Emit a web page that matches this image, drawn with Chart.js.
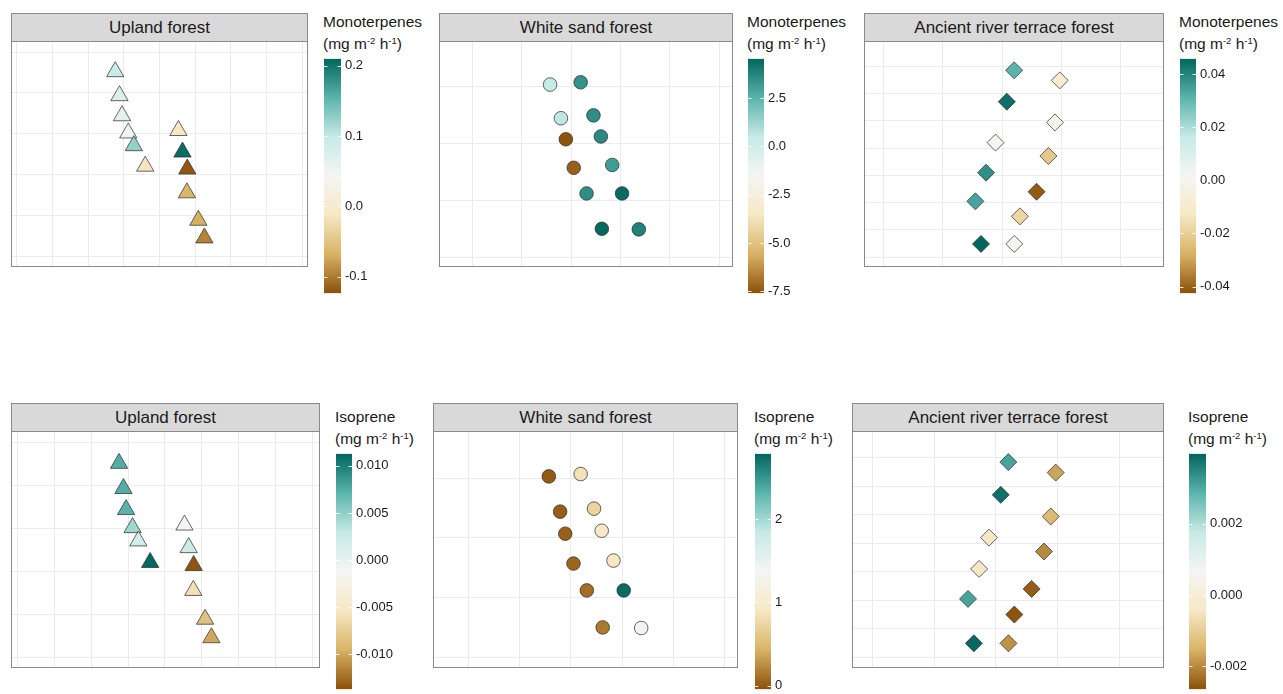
<!DOCTYPE html>
<html>
<head>
<meta charset="utf-8">
<script src="https://cdn.jsdelivr.net/npm/chart.js@4.4.1/dist/chart.umd.min.js"></script>
<style>
body { margin: 0; background: #fff; width: 1283px; height: 694px; position: relative; overflow: hidden;
       font-family: "Liberation Sans", Arial, sans-serif; }
.strip { position: absolute; box-sizing: border-box; background: #d9d9d9; border: 1px solid #8a8a8a;
         color: #1a1a1a; font-size: 17px; text-align: center; }
.plot { position: absolute; box-sizing: border-box; border: 1px solid #8a8a8a; }
.bar { position: absolute; }
.ltitle { position: absolute; font-size: 15.5px; line-height: 22px; color: #1a1a1a; white-space: nowrap; }
.ltitle .sup { font-size: 9.5px; position: relative; top: -5px; }
</style>
</head>
<body>
<script>
// site coordinates (grid units, no axis labels in the original)
const uplandX = [2.757, 2.876, 2.948, 3.123, 3.28, 3.60, 4.53, 4.645, 4.78, 4.77, 5.09, 5.26];
const uplandY = [4.52, 3.935, 3.445, 3.025, 2.715, 2.215, 3.085, 2.56, 2.145, 1.565, 0.895, 0.465];
const whiteSandX = [1.57, 2.19, 1.79, 2.45, 1.89, 2.60, 2.05, 2.83, 2.31, 3.03, 2.62, 3.37];
const whiteSandY = [3.03, 3.07, 2.44, 2.49, 2.07, 2.12, 1.57, 1.62, 1.12, 1.12, 0.50, 0.49];
const ancientX = [2.203, 2.97, 2.08, 2.89, 1.89, 2.78, 1.73, 2.58, 1.55, 2.30, 1.645, 2.205];
const ancientY = [6.85, 6.48, 5.70, 4.94, 4.20, 3.71, 3.10, 2.40, 2.05, 1.50, 0.49, 0.49];

// emissions (mg m-2 h-1)
const monoUpland = [0.095, 0.072, 0.062, 0.05, 0.125, -0.015, -0.012, 0.205, -0.12, -0.065, -0.07, -0.095];
const monoWhiteSand = [0.5, 3.4, 0.6, 3.5, -7.55, 3.6, -7.3, 3.1, 3.5, 4.4, 4.5, 3.8];
const monoAncient = [0.031, -0.010, 0.044, -0.001, 0.0, -0.022, 0.038, -0.041, 0.034, -0.018, 0.046, 0.0];
const isoUpland = [0.0075, 0.0075, 0.0072, 0.0045, 0.0018, 0.0112, -0.0015, 0.0025, -0.0135, -0.006, -0.0085, -0.010];
const isoWhiteSand = [0.0, 0.85, 0.02, 0.72, 0.03, 0.95, 0.05, 0.9, 0.1, 2.75, 0.15, 1.3];
const isoAncient = [0.0031, -0.0017, 0.0038, -0.0014, -0.0004, -0.0020, -0.0004, -0.0025, 0.0031, -0.0026, 0.0039, -0.0019];

// colour bar limits and ticks
const monoUplandLim = [-0.1236, 0.2097];
const monoUplandTicks = [-0.1, 0, 0.1, 0.2];
const monoUplandLabels = ['-0.1', '0.0', '0.1', '0.2'];
const monoWhiteSandLim = [-7.59, 4.53];
const monoWhiteSandTicks = [-7.5, -5, -2.5, 0, 2.5];
const monoWhiteSandLabels = ['-7.5', '-5.0', '-2.5', '0.0', '2.5'];
const monoAncientLim = [-0.0425, 0.0458];
const monoAncientTicks = [-0.04, -0.02, 0, 0.02, 0.04];
const monoAncientLabels = ['-0.04', '-0.02', '0.00', '0.02', '0.04'];
const isoUplandLim = [-0.01368, 0.01128];
const isoUplandTicks = [-0.01, -0.005, 0, 0.005, 0.01];
const isoUplandLabels = ['-0.010', '-0.005', '0.000', '0.005', '0.010'];
const isoWhiteSandLim = [-0.044, 2.788];
const isoWhiteSandTicks = [0, 1, 2];
const isoWhiteSandLabels = ['0', '1', '2'];
const isoAncientLim = [-0.00264, 0.00396];
const isoAncientTicks = [-0.002, 0, 0.002];
const isoAncientLabels = ['-0.002', '0.000', '0.002'];

// BrBG (7) distiller palette
const palette = ['#8c510a', '#d8b365', '#f6e8c3', '#f5f5f5', '#c7eae5', '#5ab4ac', '#01665e'];

Chart.defaults.font.family = '"Liberation Sans", Arial, sans-serif';

function hexToRgb(h) { return [1, 3, 5].map(i => parseInt(h.substr(i, 2), 16)); }
function colourFor(v, lim) {
    let t = (v - lim[0]) / (lim[1] - lim[0]);
    t = Math.max(0, Math.min(1, t));
    const s = t * (palette.length - 1);
    const i = Math.min(Math.floor(s), palette.length - 2);
    const f = s - i;
    const a = hexToRgb(palette[i]), b = hexToRgb(palette[i + 1]);
    return 'rgb(' + a.map((c, k) => Math.round(c + (b[k] - c) * f)).join(',') + ')';
}

const panels = [
    { title: 'Upland forest', xs: uplandX, ys: uplandY, vals: monoUpland, lim: monoUplandLim,
      ticks: monoUplandTicks, labels: monoUplandLabels, shape: 'triangle', r: 10, legend: 'Monoterpenes',
      box: [11, 13, 297, 267], xr: [-0.14, 8.14, 8], yr: [-0.22, 5.244, 5], bar: [324, 57, 17, 238] },
    { title: 'White sand forest', xs: whiteSandX, ys: whiteSandY, vals: monoWhiteSand, lim: monoWhiteSandLim,
      ticks: monoWhiteSandTicks, labels: monoWhiteSandLabels, shape: 'circle', r: 6.8, legend: 'Monoterpenes',
      box: [439, 13, 294, 267], xr: [-0.663, 5.26, 5], yr: [-0.153, 3.777, 3], bar: [748, 57, 16, 238] },
    { title: 'Ancient river terrace forest', xs: ancientX, ys: ancientY, vals: monoAncient, lim: monoAncientLim,
      ticks: monoAncientTicks, labels: monoAncientLabels, shape: 'rectRot', r: 8.5, legend: 'Monoterpenes',
      box: [864, 13, 300, 267], xr: [-0.308, 4.709, 4], yr: [-0.319, 7.886, 7], bar: [1180, 57, 16, 238] },
    { title: 'Upland forest', xs: uplandX, ys: uplandY, vals: isoUpland, lim: isoUplandLim,
      ticks: isoUplandTicks, labels: isoUplandLabels, shape: 'triangle', r: 10, legend: 'Isoprene',
      box: [11, 403, 309, 668], xr: [-0.144, 8.176, 8], yr: [-0.216, 5.249, 5], bar: [336, 452, 16, 239] },
    { title: 'White sand forest', xs: whiteSandX, ys: whiteSandY, vals: isoWhiteSand, lim: isoWhiteSandLim,
      ticks: isoWhiteSandTicks, labels: isoWhiteSandLabels, shape: 'circle', r: 6.8, legend: 'Isoprene',
      box: [433, 403, 305, 668], xr: [-0.669, 5.238, 5], yr: [-0.163, 3.774, 3], bar: [755, 452, 16, 239] },
    { title: 'Ancient river terrace forest', xs: ancientX, ys: ancientY, vals: isoAncient, lim: isoAncientLim,
      ticks: isoAncientTicks, labels: isoAncientLabels, shape: 'rectRot', r: 8.5, legend: 'Isoprene',
      box: [852, 403, 312, 668], xr: [-0.313, 4.708, 4], yr: [-0.34, 7.905, 7], bar: [1189, 452, 17, 239] }
];

function makeDiv(cls, left, top, w, h) {
    const d = document.createElement('div');
    d.className = cls;
    d.style.left = left + 'px';
    d.style.top = top + 'px';
    if (w != null) d.style.width = w + 'px';
    if (h != null) d.style.height = h + 'px';
    document.body.appendChild(d);
    return d;
}

function gridTicks(n) {
    return scale => { scale.ticks = []; for (let k = 0; k <= n; k++) scale.ticks.push({ value: k }); };
}

const gridAxis = (r) => ({
    type: 'linear', min: r[0], max: r[1],
    afterBuildTicks: gridTicks(r[2]),
    ticks: { display: false },
    grid: { color: '#ebebeb', lineWidth: 1, drawTicks: false },
    border: { display: false }
});

// white tick marks across the colour bar edges
const barTicks = {
    id: 'barTicks',
    afterDatasetsDraw(chart) {
        const a = chart.chartArea, ys = chart.scales.y, c = chart.ctx;
        c.save();
        c.strokeStyle = 'rgba(255,255,255,0.85)';
        c.lineWidth = 1;
        ys.ticks.forEach(t => {
            const py = Math.round(ys.getPixelForValue(t.value)) + 0.5;
            c.beginPath();
            c.moveTo(a.left, py); c.lineTo(a.left + 3.5, py);
            c.moveTo(a.right - 3.5, py); c.lineTo(a.right, py);
            c.stroke();
        });
        c.restore();
    }
};

panels.forEach(p => {
    const [bx, top, bw, bottom] = p.box;
    const strip = makeDiv('strip', bx, top, bw, 29);
    strip.style.lineHeight = '27px';
    strip.textContent = p.title;

    const plot = makeDiv('plot', bx, top + 28, bw, bottom - top - 28);
    const cv = document.createElement('canvas');
    plot.appendChild(cv);

    new Chart(cv, {
        type: 'scatter',
        data: {
            datasets: [{
                data: p.xs.map((x, i) => ({ x: x, y: p.ys[i] })),
                pointStyle: p.shape,
                pointRadius: p.r,
                backgroundColor: p.vals.map(v => colourFor(v, p.lim)),
                borderColor: 'rgba(45,45,45,0.8)',
                borderWidth: 0.9
            }]
        },
        options: {
            animation: false, responsive: true, maintainAspectRatio: false,
            layout: { padding: 0, autoPadding: false },
            plugins: { legend: { display: false }, tooltip: { enabled: false } },
            scales: { x: gridAxis(p.xr), y: gridAxis(p.yr) }
        }
    });

    // legend title
    const [cx, cy, cw, ch] = p.bar;
    const lt = makeDiv('ltitle', cx - 1, cy - 46);
    lt.innerHTML = p.legend + '<br>(mg m<span class="sup">-2</span> h<span class="sup">-1</span>)';

    // colour bar
    const holder = makeDiv('bar', cx, cy - 10, cw + 50, ch + 20);
    const bc = document.createElement('canvas');
    holder.appendChild(bc);
    const lim = p.lim;
    new Chart(bc, {
        type: 'bar',
        data: {
            labels: [''],
            datasets: [{
                data: [lim],
                barPercentage: 1, categoryPercentage: 1, borderWidth: 0,
                backgroundColor: ctx => {
                    const chart = ctx.chart;
                    if (!chart.chartArea) return palette[3];
                    const ys = chart.scales.y;
                    const g = chart.ctx.createLinearGradient(0, ys.getPixelForValue(lim[0]), 0, ys.getPixelForValue(lim[1]));
                    palette.forEach((c, i) => g.addColorStop(i / (palette.length - 1), c));
                    return g;
                }
            }]
        },
        options: {
            animation: false, responsive: true, maintainAspectRatio: false,
            layout: { padding: { top: 10, bottom: 10, left: 0, right: 0 }, autoPadding: false },
            plugins: { legend: { display: false }, tooltip: { enabled: false } },
            scales: {
                x: { display: false },
                y: {
                    position: 'right', min: lim[0], max: lim[1],
                    afterBuildTicks: s => { s.ticks = p.ticks.map(v => ({ value: v })); },
                    afterFit: s => { s.width = 50; },
                    grid: { display: false, drawTicks: false },
                    border: { display: false },
                    ticks: {
                        autoSkip: false, padding: 4, color: '#1a1a1a', font: { size: 13 },
                        callback: (v, i) => p.labels[i]
                    }
                }
            }
        },
        plugins: [barTicks]
    });
});
</script>
</body>
</html>
